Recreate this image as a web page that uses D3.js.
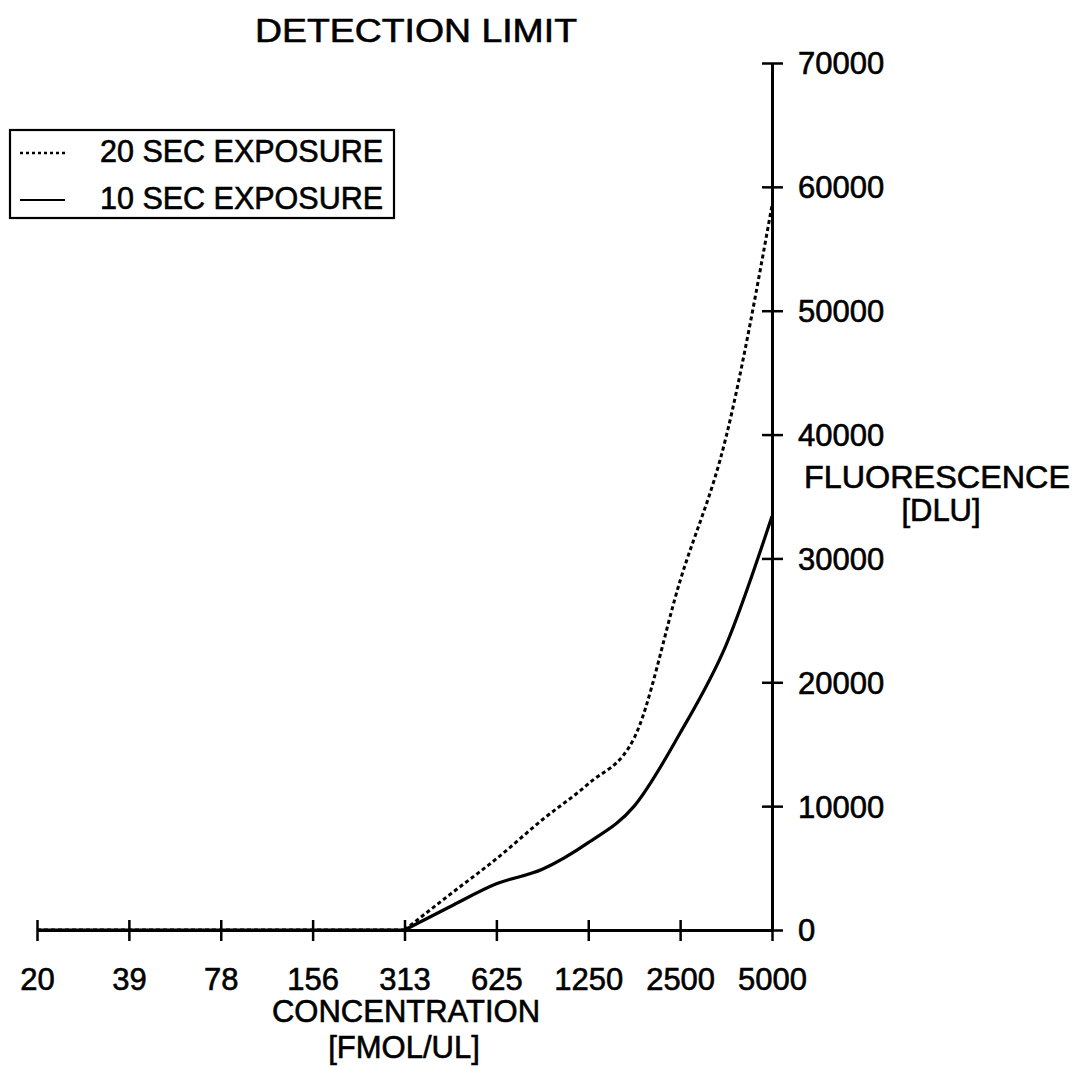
<!DOCTYPE html>
<html>
<head>
<meta charset="utf-8">
<script src="https://cdn.jsdelivr.net/npm/d3@7"></script>
<style>
    body { margin: 0; background: #fff; }
    text { font-family: 'Liberation Sans', Arial, sans-serif; fill: #000; stroke: #000; stroke-width: 0.6px; }
</style>
</head>
<body>
<svg></svg>
<script>
'use strict';

// concentration categories along the bottom axis [FMOL/UL]
var concentrations = ['20', '39', '78', '156', '313', '625', '1250', '2500', '5000'];
var fluorescenceTicks = [0, 10000, 20000, 30000, 40000, 50000, 60000, 70000];

// sample positions counted in category steps (0 = "20", 8 = "5000")
var samplePositions = [0, 1, 2, 3, 4, 4.5, 5, 5.5, 6, 6.5, 7, 7.5, 8];
var exposure20 = [0, 0, 0, 0, 0, 2900, 5750, 8900, 11800, 15500, 28200, 39800, 58500];
var exposure10 = [0, 0, 0, 0, 0, 1900, 3730, 4900, 7050, 10000, 15900, 23000, 33400];

var legendLabels = ['20 SEC EXPOSURE', '10 SEC EXPOSURE'];

var width = 1075;
var height = 1068;

var svg = d3.select('svg')
    .attr('width', width)
    .attr('height', height)
    .style('background-color', '#fff');

var x = d3.scaleLinear()
    .domain([0, concentrations.length - 1])
    .range([37, 772]);

var y = d3.scaleLinear()
    .domain([0, 70000])
    .range([930, 63]);

// title
svg.append('text')
    .attr('x', 416)
    .attr('y', 42)
    .attr('text-anchor', 'middle')
    .attr('font-size', 33)
    .attr('textLength', 322)
    .attr('lengthAdjust', 'spacingAndGlyphs')
    .text('DETECTION LIMIT');

// x axis
var xAxis = svg.append('g')
    .attr('transform', 'translate(0,' + y(0) + ')')
    .call(d3.axisBottom(x)
        .tickValues(d3.range(concentrations.length))
        .tickFormat(function (i) { return concentrations[i]; })
        .tickSizeOuter(0));

// y axis on the right side
var yAxis = svg.append('g')
    .attr('transform', 'translate(' + x(concentrations.length - 1) + ',0)')
    .call(d3.axisRight(y)
        .tickValues(fluorescenceTicks)
        .tickFormat(d3.format('d'))
        .tickSizeOuter(0));

[xAxis, yAxis].forEach(function (axis) {
    axis.select('.domain').attr('stroke', '#000').attr('stroke-width', 3);
    axis.selectAll('.tick line').attr('stroke', '#000').attr('stroke-width', 2.5);
    axis.selectAll('.tick text').attr('font-family', null).attr('font-size', 31);
});

// ticks cross the axis line
xAxis.selectAll('.tick line').attr('y1', -10).attr('y2', 11);
xAxis.selectAll('.tick text').attr('y', 60).attr('dy', null);
yAxis.selectAll('.tick line').attr('x1', -10).attr('x2', 11);
yAxis.selectAll('.tick text').attr('x', 26).attr('dy', '0.35em');

// axis titles
svg.append('text')
    .attr('x', 406).attr('y', 1022)
    .attr('text-anchor', 'middle')
    .attr('font-size', 31)
    .text('CONCENTRATION');
svg.append('text')
    .attr('x', 404).attr('y', 1058)
    .attr('text-anchor', 'middle')
    .attr('font-size', 31)
    .text('[FMOL/UL]');
svg.append('text')
    .attr('x', 937).attr('y', 488)
    .attr('text-anchor', 'middle')
    .attr('font-size', 31)
    .attr('textLength', 266)
    .attr('lengthAdjust', 'spacingAndGlyphs')
    .text('FLUORESCENCE');
svg.append('text')
    .attr('x', 941).attr('y', 521)
    .attr('text-anchor', 'middle')
    .attr('font-size', 31)
    .text('[DLU]');

// curves: flat part along the axis, then a smooth rise
var flatLine = d3.line()
    .x(function (d) { return x(d.pos); })
    .y(function (d) { return y(d.value); });

var riseLine = d3.line()
    .x(function (d) { return x(d.pos); })
    .y(function (d) { return y(d.value); })
    .curve(d3.curveMonotoneX);

function seriesPath(values) {
    var points = values.map(function (v, i) {
        return { pos: samplePositions[i], value: v };
    });
    var lastZero = 0;
    while (lastZero + 1 < points.length && points[lastZero + 1].value === 0) {
        lastZero++;
    }
    return flatLine(points.slice(0, lastZero + 1)) + riseLine(points.slice(lastZero));
}

var series = [
    { values: exposure20, dash: '4,3', width: 3 },
    { values: exposure10, dash: null, width: 3.2 }
];

svg.append('g')
    .selectAll('path')
    .data(series)
    .enter()
    .append('path')
    .attr('d', function (d) { return seriesPath(d.values); })
    .attr('fill', 'none')
    .attr('stroke', '#000')
    .attr('stroke-width', function (d) { return d.width; })
    .attr('stroke-dasharray', function (d) { return d.dash; });

// legend
var legend = svg.append('g');
legend.append('rect')
    .attr('x', 10).attr('y', 130)
    .attr('width', 384).attr('height', 88)
    .attr('fill', '#fff')
    .attr('stroke', '#000')
    .attr('stroke-width', 2.2);

var legendRows = legend.selectAll('.legendRow')
    .data(series)
    .enter()
    .append('g')
    .attr('class', 'legendRow')
    .attr('transform', function (d, i) { return 'translate(0,' + (153 + i * 47) + ')'; });

legendRows.append('line')
    .attr('x1', 20).attr('x2', 65)
    .attr('stroke', '#000')
    .attr('stroke-width', function (d) { return d.dash ? 2.4 : 2; })
    .attr('stroke-dasharray', function (d) { return d.dash ? '3,3' : null; });

legendRows.append('text')
    .attr('x', 100)
    .attr('y', 9)
    .attr('font-size', 30.5)
    .text(function (d, i) { return legendLabels[i]; });
</script>
</body>
</html>
